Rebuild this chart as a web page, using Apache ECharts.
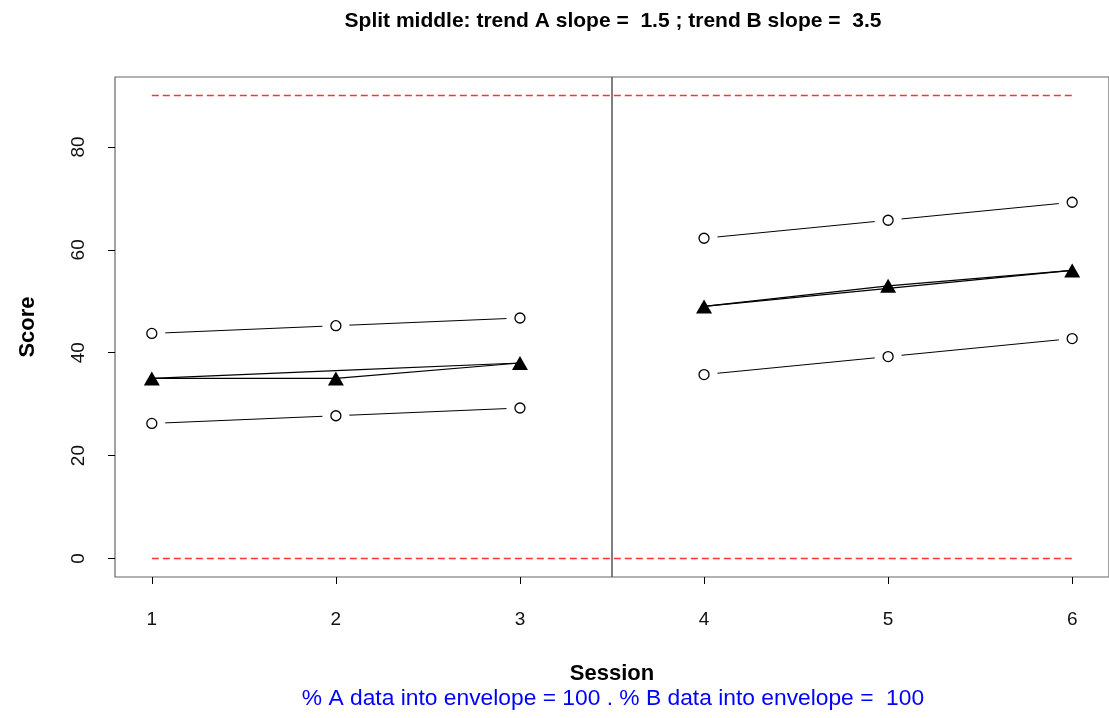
<!DOCTYPE html>
<html>
<head>
<meta charset="utf-8">
<script src="https://cdn.jsdelivr.net/npm/echarts@6/dist/echarts.min.js"></script>
<style>
html,body{margin:0;padding:0;background:#fff;}
#chart{width:1109px;height:718px;}
</style>
</head>
<body>
<div id="chart"></div>
<script>
// ---- data ----
const sessionsA = [1, 2, 3];
const sessionsB = [4, 5, 6];
const scoreA = [35, 35, 38];
const scoreB = [49, 53, 56];
const trendA = [35, 36.5, 38];
const trendB = [49, 52.5, 56];
const upperA = [43.75, 45.25, 46.75];
const lowerA = [26.25, 27.75, 29.25];
const upperB = [62.25, 65.75, 69.25];
const lowerB = [35.75, 39.25, 42.75];
const limitHigh = 90;
const limitLow = 0;
const limitFrom = 1;
const limitTo = 6;
const splitAt = 3.5;
const xTicks = [1, 2, 3, 4, 5, 6];
const yTicks = [0, 20, 40, 60, 80];
const xRange = [0.8, 6.2];
const yRange = [-3.6, 93.6];
const titleText = 'Split middle: trend A slope =  1.5 ; trend B slope =  3.5';
const footerText = '% A data into envelope = 100 . % B data into envelope =  100';

const zip = (xs, ys) => xs.map((x, i) => [x, ys[i]]);
const FONT = "'Liberation Sans', Arial, Helvetica, sans-serif";

const chart = echarts.init(document.getElementById('chart'), null, {renderer: 'canvas'});

const envelopes = [zip(sessionsA, upperA), zip(sessionsA, lowerA), zip(sessionsB, upperB), zip(sessionsB, lowerB)];
const envPoints = [].concat(...envelopes);

const series = [];
envelopes.forEach(d => series.push({
  type: 'line', data: d, showSymbol: false, z: 2, silent: true, color: '#000',
  lineStyle: {color: '#000', width: 1}
}));
series.push({
  type: 'scatter', data: envPoints, symbol: 'circle', symbolSize: 27, z: 3, silent: true, color: '#fff',
  itemStyle: {color: '#fff', opacity: 1}
});
series.push({
  type: 'scatter', data: envPoints, symbol: 'circle', symbolSize: 10, z: 4, silent: true, color: '#fff',
  itemStyle: {color: '#fff', borderColor: '#000', borderWidth: 1.3, opacity: 1}
});
[zip(sessionsA, trendA), zip(sessionsB, trendB)].forEach(d => series.push({
  type: 'line', data: d, showSymbol: false, z: 5, silent: true, color: '#000',
  lineStyle: {color: '#000', width: 1.2}
}));
[zip(sessionsA, scoreA), zip(sessionsB, scoreB)].forEach(d => series.push({
  type: 'line', data: d, symbol: 'triangle', symbolSize: [16, 14], showAllSymbol: true, z: 6, silent: true, color: '#000',
  lineStyle: {color: '#000', width: 1.2},
  itemStyle: {color: '#000', opacity: 1}
}));
[limitHigh, limitLow].forEach(lv => series.push({
  type: 'line', data: [[limitFrom, lv], [limitTo, lv]], showSymbol: false, z: 7, silent: true, color: '#ff3333',
  lineStyle: {color: '#ff3333', width: 1.5, type: [7, 4], opacity: 1}
}));
series.push({
  type: 'line', data: [], showSymbol: false, z: 1, silent: true,
  markLine: {
    silent: true, symbol: 'none', label: {show: false}, animation: false,
    data: [
      {xAxis: splitAt, lineStyle: {color: '#555', width: 1.5, type: 'solid'}}
    ]
  }
});

chart.setOption({
  animation: false,
  backgroundColor: '#fff',
  grid: {left: 115, top: 77, width: 996, height: 500, show: true, borderColor: '#666', borderWidth: 1.2, backgroundColor: 'transparent'},
  xAxis: {
    type: 'value', min: xRange[0], max: xRange[1],
    name: 'Session', nameLocation: 'middle', nameGap: 86,
    nameTextStyle: {fontFamily: FONT, fontWeight: 'bold', fontSize: 22, color: '#000'},
    axisLine: {show: false, onZero: false},
    splitLine: {show: false},
    axisTick: {show: true, inside: false, length: 7, lineStyle: {color: '#000', width: 1}, customValues: xTicks},
    axisLabel: {show: true, margin: 33, fontFamily: FONT, fontSize: 19, color: '#111', customValues: xTicks}
  },
  yAxis: {
    type: 'value', min: yRange[0], max: yRange[1],
    name: 'Score', nameLocation: 'middle', nameGap: 76, nameRotate: 90,
    nameTextStyle: {fontFamily: FONT, fontWeight: 'bold', fontSize: 22, color: '#000'},
    axisLine: {show: false, onZero: false},
    splitLine: {show: false},
    axisTick: {show: true, inside: false, length: 7, lineStyle: {color: '#000', width: 1}, customValues: yTicks},
    axisLabel: {show: true, margin: 27, rotate: 90, fontFamily: FONT, fontSize: 19, color: '#111', customValues: yTicks}
  },
  graphic: [
    {type: 'text', x: 613, y: 21, style: {text: titleText, font: "bold 21px " + FONT, fill: '#000', textAlign: 'center', textVerticalAlign: 'middle'}},
    {type: 'text', x: 613, y: 699, style: {text: footerText, font: "22.8px " + FONT, fill: '#0000ff', textAlign: 'center', textVerticalAlign: 'middle'}}
  ],
  series: series
});
</script>
</body>
</html>
